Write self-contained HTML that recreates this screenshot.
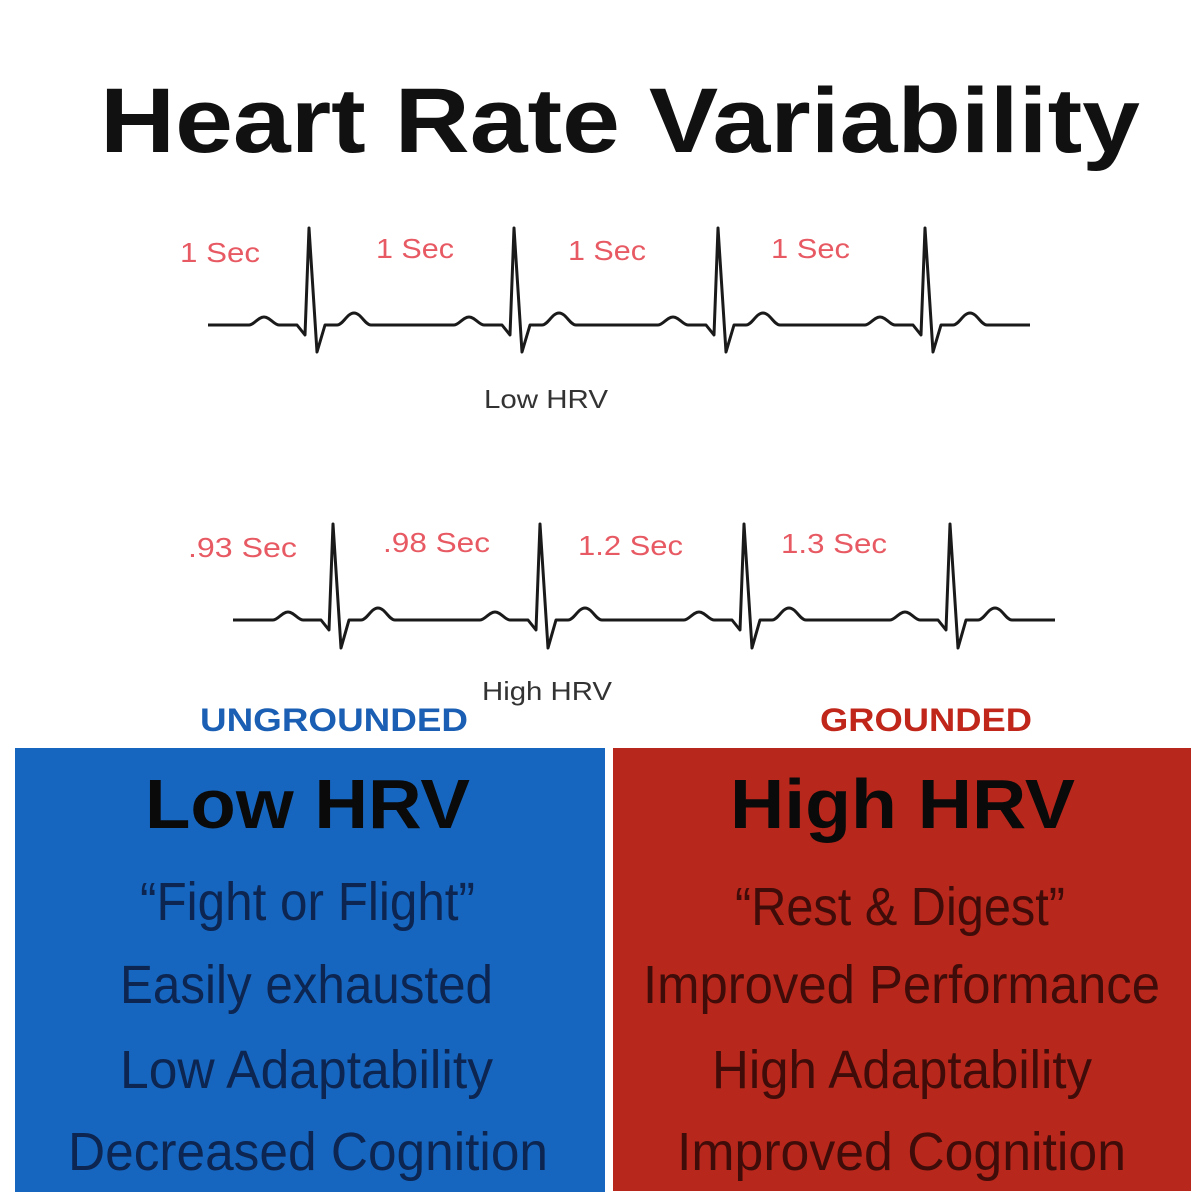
<!DOCTYPE html>
<html><head><meta charset="utf-8"><style>html,body{margin:0;padding:0;background:#fff}svg{display:block}</style></head>
<body>
<svg width="1200" height="1200" viewBox="0 0 1200 1200" xmlns="http://www.w3.org/2000/svg">
<rect width="1200" height="1200" fill="#fff"/>
<text x="100" y="152" font-family="Liberation Sans, sans-serif" font-weight="bold" font-size="92" fill="#111" textLength="1040" lengthAdjust="spacingAndGlyphs">Heart Rate Variability</text>
<g font-family="Liberation Sans, sans-serif" font-size="28" fill="#e85a63">
<text x="180" y="262" textLength="80" lengthAdjust="spacingAndGlyphs">1 Sec</text>
<text x="376" y="258" textLength="78" lengthAdjust="spacingAndGlyphs">1 Sec</text>
<text x="568" y="260" textLength="78" lengthAdjust="spacingAndGlyphs">1 Sec</text>
<text x="771" y="258" textLength="79" lengthAdjust="spacingAndGlyphs">1 Sec</text>
<text x="188" y="557" textLength="109" lengthAdjust="spacingAndGlyphs">.93 Sec</text>
<text x="383" y="552" textLength="107" lengthAdjust="spacingAndGlyphs">.98 Sec</text>
<text x="578" y="555" textLength="105" lengthAdjust="spacingAndGlyphs">1.2 Sec</text>
<text x="781" y="553" textLength="106" lengthAdjust="spacingAndGlyphs">1.3 Sec</text>
</g>
<g fill="none" stroke="#1a1a1a" stroke-width="3" stroke-linejoin="round">
<path d="M208,325 H249 c5,0 9,-8 15,-8 c6,0 10,8 15,8 H297 l8,10 l4,-107 l8,124 l8,-27 h12 c6,0 10,-12 17,-12 c7,0 11,12 17,12 H454 c5,0 9,-8 15,-8 c6,0 10,8 15,8 H502 l8,10 l4,-107 l8,124 l8,-27 h12 c6,0 10,-12 17,-12 c7,0 11,12 17,12 H658 c5,0 9,-8 15,-8 c6,0 10,8 15,8 H706 l8,10 l4,-107 l8,124 l8,-27 h12 c6,0 10,-12 17,-12 c7,0 11,12 17,12 H865 c5,0 9,-8 15,-8 c6,0 10,8 15,8 H913 l8,10 l4,-107 l8,124 l8,-27 h12 c6,0 10,-12 17,-12 c7,0 11,12 17,12 H1030"/>
<path d="M233,620 H273 c5,0 9,-8 15,-8 c6,0 10,8 15,8 H321 l8,10 l4,-106 l8,124 l8,-28 h12 c6,0 10,-12 17,-12 c7,0 11,12 17,12 H480 c5,0 9,-8 15,-8 c6,0 10,8 15,8 H528 l8,10 l4,-106 l8,124 l8,-28 h12 c6,0 10,-12 17,-12 c7,0 11,12 17,12 H684 c5,0 9,-8 15,-8 c6,0 10,8 15,8 H732 l8,10 l4,-106 l8,124 l8,-28 h12 c6,0 10,-12 17,-12 c7,0 11,12 17,12 H890 c5,0 9,-8 15,-8 c6,0 10,8 15,8 H938 l8,10 l4,-106 l8,124 l8,-28 h12 c6,0 10,-12 17,-12 c7,0 11,12 17,12 H1055"/>
</g>
<g font-family="Liberation Sans, sans-serif" font-size="26" fill="#333">
<text x="484" y="408" textLength="124" lengthAdjust="spacingAndGlyphs">Low HRV</text>
<text x="482" y="700" textLength="130" lengthAdjust="spacingAndGlyphs">High HRV</text>
</g>
<g font-family="Liberation Sans, sans-serif" font-weight="bold" font-size="32">
<text x="200" y="731" fill="#1a5fb4" textLength="268" lengthAdjust="spacingAndGlyphs">UNGROUNDED</text>
<text x="820" y="731" fill="#c0261a" textLength="212" lengthAdjust="spacingAndGlyphs">GROUNDED</text>
</g>
<rect x="15" y="748" width="590" height="444" fill="#1666c0"/>
<rect x="613" y="748" width="578" height="443" fill="#b8271b"/>
<g font-family="Liberation Sans, sans-serif" font-weight="bold" font-size="70" fill="#0a0a0a">
<text x="145" y="828" textLength="325" lengthAdjust="spacingAndGlyphs">Low HRV</text>
<text x="730" y="828" textLength="345" lengthAdjust="spacingAndGlyphs">High HRV</text>
</g>
<g font-family="Liberation Sans, sans-serif" font-size="54">
<g fill="#0b1a3d" fill-opacity="0.85">
<text x="140" y="920" textLength="335" lengthAdjust="spacingAndGlyphs">“Fight or Flight”</text>
<text x="120" y="1003" textLength="373" lengthAdjust="spacingAndGlyphs">Easily exhausted</text>
<text x="120" y="1088" textLength="373" lengthAdjust="spacingAndGlyphs">Low Adaptability</text>
<text x="68" y="1170" textLength="480" lengthAdjust="spacingAndGlyphs">Decreased Cognition</text>
</g>
<g fill="#2a0806" fill-opacity="0.85">
<text x="735" y="925" textLength="330" lengthAdjust="spacingAndGlyphs">“Rest &amp; Digest”</text>
<text x="643" y="1003" textLength="517" lengthAdjust="spacingAndGlyphs">Improved Performance</text>
<text x="712" y="1088" textLength="380" lengthAdjust="spacingAndGlyphs">High Adaptability</text>
<text x="677" y="1170" textLength="449" lengthAdjust="spacingAndGlyphs">Improved Cognition</text>
</g>
</g>
</svg>
</body></html>
